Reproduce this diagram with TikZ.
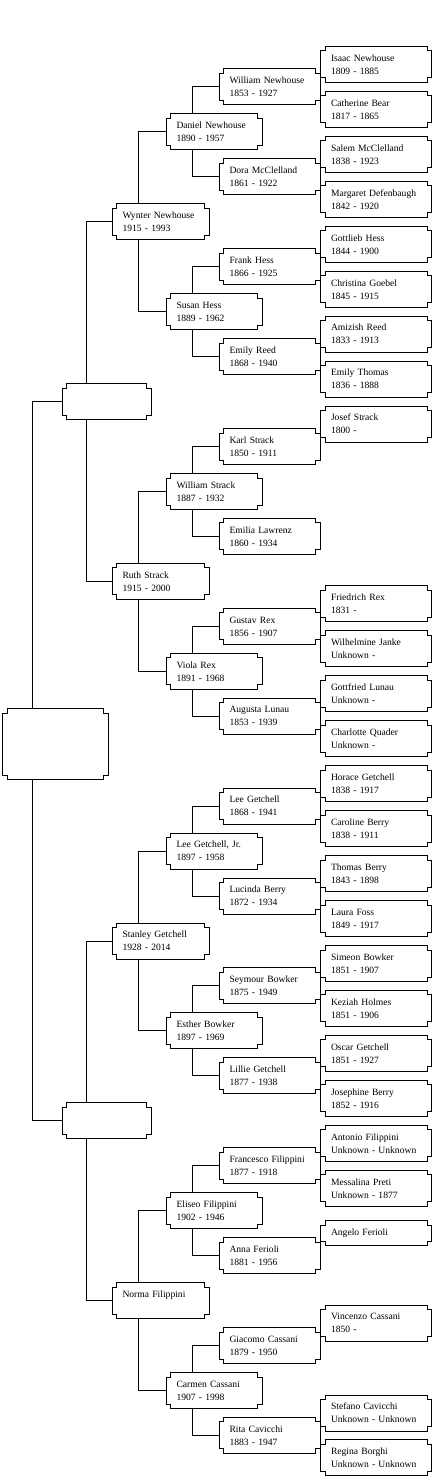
\documentclass[tikz,border=0pt]{standalone}
\usepackage{fontspec}
\setmainfont{Liberation Serif}
\usetikzlibrary{positioning}

\newcommand{\notchsz}{4.5pt}
% outline with the four square notches
\newcommand{\notchbox}[1]{%
  \draw ([xshift=\notchsz]#1.north west) -- ([xshift=-\notchsz]#1.north east)
    -- ([xshift=-\notchsz,yshift=-\notchsz]#1.north east) -- ([yshift=-\notchsz]#1.north east)
    -- ([yshift=\notchsz]#1.south east) -- ([xshift=-\notchsz,yshift=\notchsz]#1.south east)
    -- ([xshift=-\notchsz]#1.south east) -- ([xshift=\notchsz]#1.south west)
    -- ([xshift=\notchsz,yshift=\notchsz]#1.south west) -- ([yshift=\notchsz]#1.south west)
    -- ([yshift=-\notchsz]#1.north west) -- ([xshift=\notchsz,yshift=-\notchsz]#1.north west) -- cycle;}

\tikzset{
  pers/.style={anchor=west,inner xsep=10pt,inner ysep=0pt,align=left,minimum height=35pt,
    text width=#1,font=\fontsize{9.6}{13}\selectfont},
  single/.style={minimum height=24pt},
  link/.style={line width=1pt}
}

\begin{document}
\begin{tikzpicture}[x=1pt,y=-1pt,line width=1pt]
\useasboundingbox (0,0) rectangle (432,1477);
% generation 1 and 2 (empty)
\node[pers=84.5pt,minimum height=70pt] (r) at (2.5,744) {};
\foreach \n in {0,1} \node[pers=68pt] (b\n) at (62,{64.5+44.95*(16*\n+7.5)}) {};
% generation 3
\foreach \m/\nm/\yr in {0/{Wynter Newhouse}/{1915 - 1993},1/{Ruth Strack}/{1915 - 2000},
  2/{Stanley Getchell}/{1928 - 2014},3/{Norma Filippini}/{\mbox{}}}
  \node[pers=76pt] (c\m) at (112,{64.5+44.95*(8*\m+3.5)}) {\nm\\\yr};
% generation 4
\foreach \k/\nm/\yr in {0/{Daniel Newhouse}/{1890 - 1957},1/{Susan Hess}/{1889 - 1962},
  2/{William Strack}/{1887 - 1932},3/{Viola Rex}/{1891 - 1968},4/{Lee Getchell, Jr.}/{1897 - 1958},
  5/{Esther Bowker}/{1897 - 1969},6/{Eliseo Filippini}/{1902 - 1946},7/{Carmen Cassani}/{1907 - 1998}}
  \node[pers=75pt] (d\k) at (166,{64.5+44.95*(4*\k+1.5)}) {\nm\\\yr};
% generation 5
\foreach \j/\nm/\yr in {0/{William Newhouse}/{1853 - 1927},1/{Dora McClelland}/{1861 - 1922},
  2/{Frank Hess}/{1866 - 1925},3/{Emily Reed}/{1868 - 1940},4/{Karl Strack}/{1850 - 1911},
  5/{Emilia Lawrenz}/{1860 - 1934},6/{Gustav Rex}/{1856 - 1907},7/{Augusta Lunau}/{1853 - 1939},
  8/{Lee Getchell}/{1868 - 1941},9/{Lucinda Berry}/{1872 - 1934},10/{Seymour Bowker}/{1875 - 1949},
  11/{Lillie Getchell}/{1877 - 1938},12/{Francesco Filippini}/{1877 - 1918},13/{Anna Ferioli}/{1881 - 1956},
  14/{Giacomo Cassani}/{1879 - 1950},15/{Rita Cavicchi}/{1883 - 1947}}
  \node[pers=80pt] (e\j) at (219,{64.5+44.95*(2*\j+0.5)}) {\nm\\\yr};
% generation 6
\foreach \i/\nm/\yr in {0/{Isaac Newhouse}/{1809 - 1885},1/{Catherine Bear}/{1817 - 1865},
  2/{Salem McClelland}/{1838 - 1923},3/{Margaret Defenbaugh}/{1842 - 1920},4/{Gottlieb Hess}/{1844 - 1900},
  5/{Christina Goebel}/{1845 - 1915},6/{Amizish Reed}/{1833 - 1913},7/{Emily Thomas}/{1836 - 1888},
  8/{Josef Strack}/{1800 -},12/{Friedrich Rex}/{1831 -},13/{Wilhelmine Janke}/{Unknown -},
  14/{Gottfried Lunau}/{Unknown -},15/{Charlotte Quader}/{Unknown -},16/{Horace Getchell}/{1838 - 1917},
  17/{Caroline Berry}/{1838 - 1911},18/{Thomas Berry}/{1843 - 1898},19/{Laura Foss}/{1849 - 1917},
  20/{Simeon Bowker}/{1851 - 1907},21/{Keziah Holmes}/{1851 - 1906},22/{Oscar Getchell}/{1851 - 1927},
  23/{Josephine Berry}/{1852 - 1916},24/{Antonio Filippini}/{Unknown - Unknown},
  25/{Messalina Preti}/{Unknown - 1877},28/{Vincenzo Cassani}/{1850 -},
  30/{Stefano Cavicchi}/{Unknown - Unknown},31/{Regina Borghi}/{Unknown - Unknown}}
  \node[pers=90pt] (f\i) at (320.5,{64.5+44.95*\i}) {\nm\\\yr};
\node[pers=90pt,single] (f26) at (320.5,{64.5+44.95*26}) {Angelo Ferioli};

\foreach \p in {r,b0,b1,c0,c1,c2,c3,d0,d1,d2,d3,d4,d5,d6,d7} {\notchbox{\p}}
\foreach \p in {0,...,15} {\notchbox{e\p}}
\foreach \p in {0,1,2,3,4,5,6,7,8,12,13,14,15,16,17,18,19,20,21,22,23,24,25,26,28,30,31} {\notchbox{f\p}}

% connectors: father to the top edge, mother to the bottom edge
\draw[link] (b0.west) -| ([xshift=29.5pt]r.north west);
\draw[link] (b1.west) -| ([xshift=29.5pt]r.south west);
\foreach \n in {0,1} {
  \pgfmathtruncatemacro{\fa}{2*\n}\pgfmathtruncatemacro{\mo}{2*\n+1}
  \draw[link] (c\fa.west) -| ([xshift=24pt]b\n.north west);
  \draw[link] (c\mo.west) -| ([xshift=24pt]b\n.south west);
}
\foreach \m in {0,...,3} {
  \pgfmathtruncatemacro{\fa}{2*\m}\pgfmathtruncatemacro{\mo}{2*\m+1}
  \draw[link] (d\fa.west) -| ([xshift=26pt]c\m.north west);
  \draw[link] (d\mo.west) -| ([xshift=26pt]c\m.south west);
}
\foreach \k in {0,...,7} {
  \pgfmathtruncatemacro{\fa}{2*\k}\pgfmathtruncatemacro{\mo}{2*\k+1}
  \draw[link] (e\fa.west) -| ([xshift=26pt]d\k.north west);
  \draw[link] (e\mo.west) -| ([xshift=26pt]d\k.south west);
}
\end{tikzpicture}
\end{document}
